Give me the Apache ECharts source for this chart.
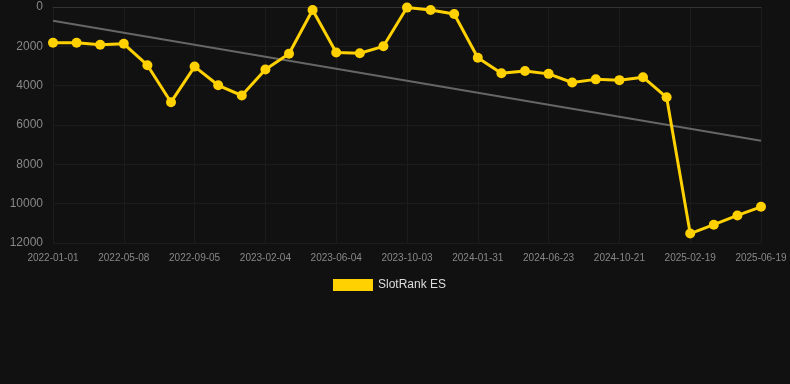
<!DOCTYPE html>
<html>
<head>
<meta charset="utf-8">
<script src="https://cdn.jsdelivr.net/npm/echarts@6/dist/echarts.min.js"></script>
<style>
html,body{margin:0;padding:0;background:#111111;}
#chart{width:790px;height:384px;}
</style>
</head>
<body>
<div id="chart"></div>
<script>
const categories = [
  '2022-01-01','2022-02-12','2022-03-27','2022-05-08','2022-06-17','2022-07-27',
  '2022-09-05','2022-10-26','2022-12-16','2023-02-04','2023-03-16','2023-04-25',
  '2023-06-04','2023-07-14','2023-08-23','2023-10-03','2023-11-12','2023-12-22',
  '2024-01-31','2024-03-18','2024-05-05','2024-06-23','2024-08-02','2024-09-11',
  '2024-10-21','2024-11-30','2025-01-09','2025-02-19','2025-03-31','2025-05-10',
  '2025-06-19'
];
const slotRankES = [
  1815, 1815, 1915, 1870, 2960, 4840, 3030, 3980, 4500, 3180, 2380,
  150, 2310, 2350, 2000, 30, 150, 360, 2580, 3370, 3250, 3400,
  3840, 3680, 3720, 3570, 4590, 11520, 11070, 10600, 10160
];
const trendStart = 700;
const trendEnd = 6800;
const yTicks = { min: 0, max: 12000, interval: 2000 };

const trendData = categories.map((c, i) =>
  i === 0 ? trendStart : (i === categories.length - 1 ? trendEnd : null));

const chart = echarts.init(document.getElementById('chart'), null, { renderer: 'canvas' });
chart.setOption({
  backgroundColor: '#111111',
  animation: false,
  grid: { left: 53, right: 29, top: 7, bottom: 141 },
  legend: {
    bottom: 88,
    left: 328,
    data: [{ name: 'SlotRank ES', icon: 'rect' }],
    itemWidth: 40,
    itemHeight: 12,
    itemGap: 10,
    textStyle: { color: '#dddddd', fontSize: 12 }
  },
  xAxis: {
    type: 'category',
    data: categories,
    boundaryGap: false,
    axisLine: { lineStyle: { color: '#333333' } },
    axisTick: { show: false },
    axisLabel: { color: '#888888', fontSize: 10, interval: 2, margin: 10 },
    splitLine: { show: true, interval: 2, lineStyle: { color: '#1c1c1c' } }
  },
  yAxis: {
    type: 'value',
    inverse: true,
    min: yTicks.min,
    max: yTicks.max,
    interval: yTicks.interval,
    axisLine: { show: false },
    axisTick: { show: false },
    axisLabel: { color: '#888888', fontSize: 12, margin: 10, formatter: v => String(v) },
    splitLine: { lineStyle: { color: '#1c1c1c' } }
  },
  series: [
    {
      name: 'SlotRank ES',
      type: 'line',
      data: slotRankES,
      symbol: 'circle',
      symbolSize: 10,
      itemStyle: { color: '#FFD100' },
      lineStyle: { color: '#FFD100', width: 3 },
      z: 3
    },
    {
      name: 'Trend',
      type: 'line',
      data: trendData,
      connectNulls: true,
      symbol: 'none',
      lineStyle: { color: '#666666', width: 2 },
      z: 2
    }
  ]
});
</script>
</body>
</html>
